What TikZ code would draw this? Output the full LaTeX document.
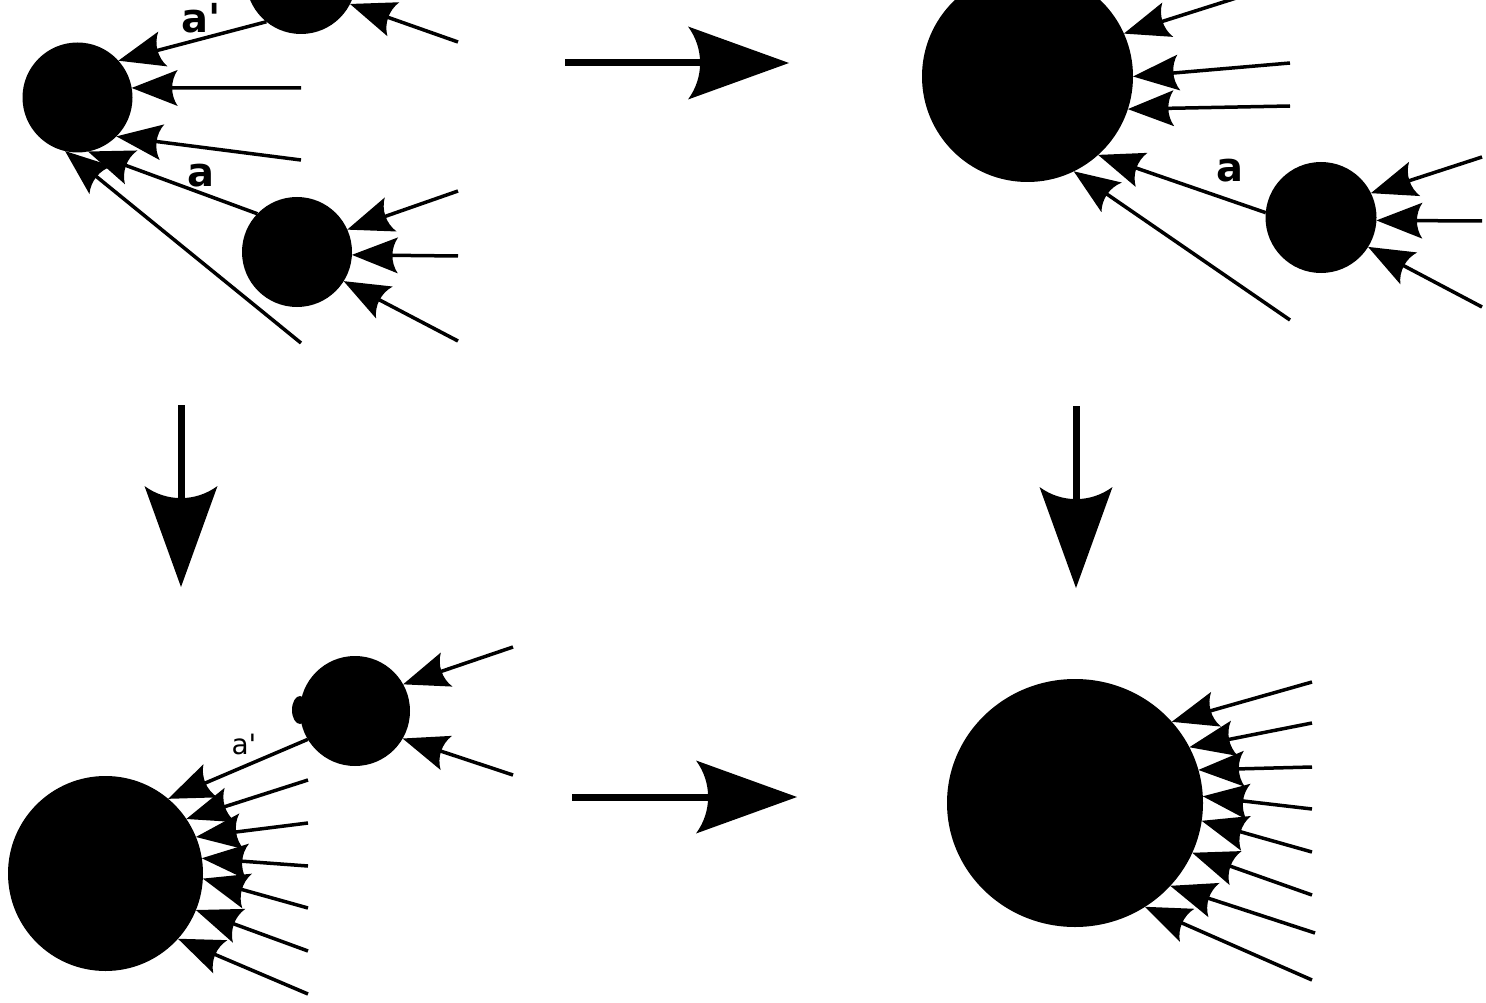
\documentclass[tikz,border=0pt]{standalone}
\usepackage{fontspec}
\newfontfamily\lab{DejaVu Sans}
\usetikzlibrary{arrows.meta,shapes.geometric}
\pgfdeclarearrow{
  name = Ink,
  parameters = {\the\pgfarrowlength,\the\pgfarrowwidth},
  setup code = {
    \pgfarrowssetbackend{-\pgfarrowlength}
    \pgfarrowssetlineend{-.85\pgfarrowlength}
    \pgfarrowssavethe\pgfarrowlength
    \pgfarrowssavethe\pgfarrowwidth
  },
  drawing code = {
    \pgfpathmoveto{\pgfpointorigin}
    \pgfpathlineto{\pgfpoint{-\pgfarrowlength}{.5\pgfarrowwidth}}
    \pgfpathcurveto{\pgfpoint{-.84\pgfarrowlength}{.2\pgfarrowwidth}}{\pgfpoint{-.84\pgfarrowlength}{-.2\pgfarrowwidth}}{\pgfpoint{-\pgfarrowlength}{-.5\pgfarrowwidth}}
    \pgfpathclose
    \pgfusepathqfill
  },
  defaults = {length=10pt, width=8pt}
}
\tikzset{
  dot/.style={circle, fill=black, inner sep=0pt, outer sep=0pt},
  con/.style={line width=3.5pt, -{Ink[length=46pt,width=36pt]}},
  bigarr/.style={line width=7pt, -{Ink[length=101pt,width=73pt]}},
  boldlab/.style={font=\lab\bfseries\fontsize{40}{48}\selectfont, inner sep=0pt, anchor=base},
  thinlab/.style={font=\lab\fontsize{28}{34}\selectfont, inner sep=0pt, anchor=base},
}
\begin{document}
\begin{tikzpicture}[x=1pt,y=-1pt]
\useasboundingbox (0,0) rectangle (1486,1003);
\clip (0,0) rectangle (1486,1003);
\fill[white] (0,0) rectangle (1486,1003);

% ---------- panel 1 (top left)
\node[dot, minimum size=110pt] (A) at (77.5,97.5) {};
\node[dot, minimum size=110pt] (B) at (301,-21) {};
\node[dot, minimum size=110pt] (C) at (297,252) {};
\coordinate (p1a) at (458,42);
\coordinate (p1b) at (301,88);
\coordinate (p1c) at (301,160);
\coordinate (p1d) at (301,343);
\coordinate (p1e) at (458,191);
\coordinate (p1f) at (458,256);
\coordinate (p1g) at (458,341);
\draw[con] (p1a) -- (B.-27);
\draw[con] (p1b) -- (A.10);
\draw[con] (p1c) -- (A.-45);
\draw[con] (B.231) -- (A.42);
\draw[con] (C.136) -- (A.-79);
\draw[con] (p1d) -- (A.-103);
\draw[con] (p1e) -- (C.24);
\draw[con] (p1f) -- (C.-3);
\draw[con] (p1g) -- (C.-32);
\node[boldlab] (l1) at (201,33) {a'};
\node[boldlab] (l2) at (200.5,187) {a};

% ---------- panel 2 (top right)
\node[dot, minimum size=211pt] (D) at (1027.5,76.5) {};
\node[dot, minimum size=111pt] (E) at (1321,217.5) {};
\coordinate (q1) at (1290,-19);
\coordinate (q2) at (1290,63);
\coordinate (q3) at (1290,106);
\coordinate (q4) at (1290,320);
\coordinate (q5) at (1482,157);
\coordinate (q6) at (1482,221);
\coordinate (q7) at (1482,307);
\draw[con] (q1) -- (D.24.5);
\draw[con] (q2) -- (D.0);
\draw[con] (q3) -- (D.-18);
\draw[con] (E.175) -- (D.-48);
\draw[con] (q4) -- (D.-64);
\draw[con] (q5) -- (E.26);
\draw[con] (q6) -- (E.-3);
\draw[con] (q7) -- (E.-32);
\node[boldlab] (l3) at (1229.5,182) {a};

% ---------- panel 3 (bottom left)
\node[dot, minimum size=195pt] (F) at (105.5,873.5) {};
\node[dot, minimum size=110pt] (G) at (355,711) {};
\fill (300,710) ellipse [x radius=8, y radius=14];
\coordinate (r1) at (308,780);
\coordinate (r2) at (308,823);
\coordinate (r3) at (308,866);
\coordinate (r4) at (308,908);
\coordinate (r5) at (308,951);
\coordinate (r6) at (308,994);
\coordinate (r7) at (513,647);
\coordinate (r8) at (513,775);
\draw[con] (G.211) -- (F.50);
\draw[con] (r1) -- (F.34);
\draw[con] (r2) -- (F.22);
\draw[con] (r3) -- (F.9);
\draw[con] (r4) -- (F.-3);
\draw[con] (r5) -- (F.-22);
\draw[con] (r6) -- (F.-42);
\draw[con] (r7) -- (G.29);
\draw[con] (r8) -- (G.-30);
\node[thinlab] (l4) at (244,754) {a'};

% ---------- panel 4 (bottom right)
\node[ellipse, fill=black, inner sep=0pt, outer sep=0pt, minimum width=256pt, minimum height=248pt] (H) at (1075,803) {};
\coordinate (s1) at (1312,682);
\coordinate (s2) at (1312,723);
\coordinate (s3) at (1312,767);
\coordinate (s4) at (1312,809);
\coordinate (s5) at (1312,852);
\coordinate (s6) at (1312,895);
\coordinate (s7) at (1315,933);
\coordinate (s8) at (1312,980);
\draw[con] (s1) -- (H.40);
\draw[con] (s2) -- (H.26);
\draw[con] (s3) -- (H.15);
\draw[con] (s4) -- (H.3);
\draw[con] (s5) -- (H.-8.5);
\draw[con] (s6) -- (H.-23.5);
\draw[con] (s7) -- (H.-41);
\draw[con] (s8) -- (H.-56);

% ---------- big transition arrows
\coordinate (m1) at (565,63);
\coordinate (m2) at (789,63);
\coordinate (m3) at (572,797);
\coordinate (m4) at (797,797);
\coordinate (m5) at (181,405);
\coordinate (m6) at (181,587);
\coordinate (m7) at (1076,406);
\coordinate (m8) at (1076,588);
\draw[bigarr] (m1) -- (m2);
\draw[bigarr] (m3) -- (m4);
\draw[bigarr] (m5) -- (m6);
\draw[bigarr] (m7) -- (m8);
\end{tikzpicture}
\end{document}
